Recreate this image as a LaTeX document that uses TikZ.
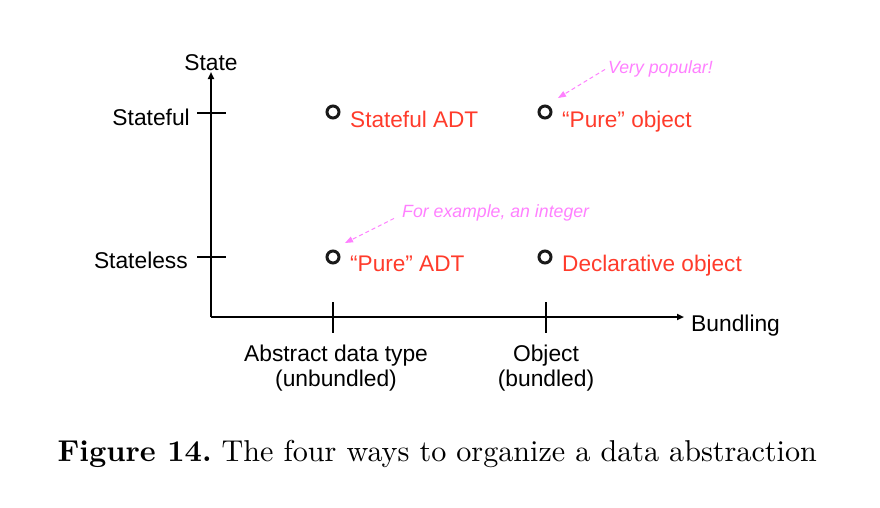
\documentclass[tikz,border=0pt]{standalone}
\usepackage{fontspec}
\newfontfamily\arial{Liberation Sans}
\usetikzlibrary{arrows.meta}
\definecolor{lblred}{HTML}{FF3B2B}
\definecolor{annot}{HTML}{FF80FF}
\tikzset{
  axis/.style={line width=1.8pt,-{Triangle[length=7pt,width=6pt]}},
  tickline/.style={line width=1.4pt},
  pt/.style={circle,draw=black!90,line width=3pt,minimum size=12pt,inner sep=0pt},
  blk/.style={font=\arial\fontsize{22.8}{26}\selectfont,inner sep=0pt},
  red/.style={font=\arial\fontsize{22.6}{26}\selectfont,text=lblred,inner sep=0pt,anchor=base west},
  ann/.style={font=\arial\itshape\fontsize{17.7}{20}\selectfont,text=annot,inner sep=0pt,anchor=base west},
  annarrow/.style={draw=annot,line width=1pt,dashed,dash pattern=on 4pt off 3pt,-{Triangle[length=8pt,width=6pt]}}
}
\begin{document}
\begin{tikzpicture}[x=1pt,y=-1pt]
\useasboundingbox (0,0) rectangle (880,507);
% axes
\coordinate (O) at (211,317);
\coordinate (ytip) at (211,72);
\coordinate (xtip) at (684,317);
\draw[axis] (O) -- (ytip);
\draw[axis] (O) -- (xtip);
% y ticks
\coordinate (t1a) at (197,113); \coordinate (t1b) at (226,113);
\coordinate (t2a) at (197,257); \coordinate (t2b) at (226,257);
\draw[tickline] (t1a) -- (t1b);
\draw[tickline] (t2a) -- (t2b);
% x ticks
\coordinate (t3a) at (333,302); \coordinate (t3b) at (333,333);
\coordinate (t4a) at (546,302); \coordinate (t4b) at (546,333);
\draw[tickline] (t3a) -- (t3b);
\draw[tickline] (t4a) -- (t4b);
% axis labels
\node[blk,anchor=base] (state) at (211,70) {State};
\node[blk,anchor=base east] (stateful) at (190,125) {Stateful};
\node[blk,anchor=base east] (stateless) at (188,268) {Stateless};
\node[blk,anchor=base west] (bundling) at (691,331) {Bundling};
\node[blk,anchor=base] (adt) at (336,361) {Abstract data type};
\node[blk,anchor=base] (unb) at (336,386) {(unbundled)};
\node[blk,anchor=base] (obj) at (546,361) {Object};
\node[blk,anchor=base] (bun) at (546,386) {(bundled)};
% points
\node[pt] (p1) at (333,112) {};
\node[pt] (p2) at (545,112) {};
\node[pt] (p3) at (333,257) {};
\node[pt] (p4) at (545,257) {};
\node[red] (l1) at (350,127) {Stateful ADT};
\node[red] (l2) at (562,127) {“Pure” object};
\node[red] (l3) at (350,271) {“Pure” ADT};
\node[red] (l4) at (562,271) {Declarative object};
% annotations
\node[ann] (a1) at (608,73) {Very popular!};
\node[ann] (a2) at (402,217) {For example, an integer};
\coordinate (e1) at (558,98);
\coordinate (e2) at (345,243);
\draw[annarrow] (a1.west) ++(-3,1) -- (e1);
\draw[annarrow] (a2.west) ++(-8,6) -- (e2);
% caption
\node[anchor=base west,inner sep=0pt,font=\fontsize{10}{12}\selectfont,scale=3.015,transform shape] (cap) at (57,461) {\textbf{Figure 14.}\ The four ways to organize a data abstraction};
\end{tikzpicture}
\end{document}
